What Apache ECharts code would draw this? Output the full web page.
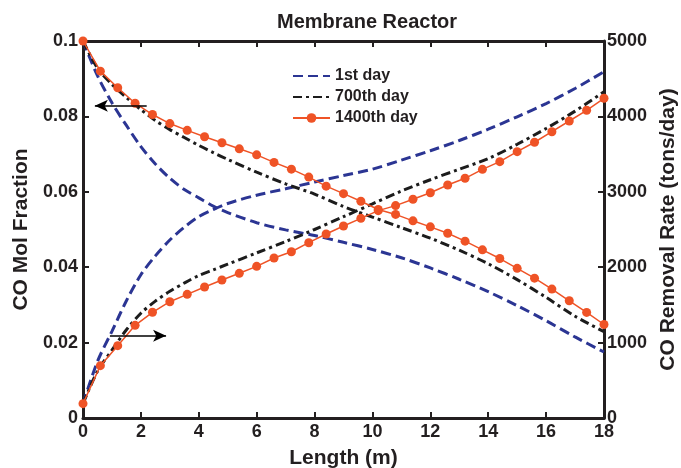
<!DOCTYPE html>
<html>
<head>
<meta charset="utf-8">
<script src="https://cdn.jsdelivr.net/npm/echarts@6/dist/echarts.min.js"></script>
<style>
html, body { margin: 0; padding: 0; background: #fff; }
#chart { width: 681px; height: 468px; }
</style>
</head>
<body>
<div id="chart"></div>
<script>
// lengths (m) for the smooth curves
const lenSmooth = [0, 0.5, 1, 1.5, 2, 2.5, 3, 3.5, 4, 4.5, 5, 6, 7, 8, 9, 10, 11, 12, 13, 14, 15, 16, 17, 18];
// lengths (m) of the marked 1400th day points
const lenMarked = [0, 0.6, 1.2, 1.8, 2.4, 3, 3.6, 4.2, 4.8, 5.4, 6, 6.6, 7.2, 7.8, 8.4, 9, 9.6, 10.2,
  10.8, 11.4, 12, 12.6, 13.2, 13.8, 14.4, 15, 15.6, 16.2, 16.8, 17.4, 18];

// CO mol fraction (left axis)
const molDay1 = [0.1, 0.0908, 0.0836, 0.0776, 0.0720, 0.0674, 0.0636, 0.0606, 0.0584, 0.0562, 0.0545,
  0.0518, 0.0499, 0.0484, 0.0466, 0.0447, 0.0425, 0.0398, 0.0368, 0.0335, 0.0298, 0.0258, 0.0215, 0.0175];
const molDay700 = [0.1, 0.0928, 0.0885, 0.0850, 0.0818, 0.0789, 0.0765, 0.0744, 0.0723, 0.0704, 0.0686,
  0.0652, 0.0621, 0.0594, 0.0561, 0.0533, 0.0505, 0.0477, 0.0445, 0.0409, 0.0367, 0.0320, 0.0270, 0.0229];
const molDay1400 = [0.1, 0.0920, 0.0876, 0.0835, 0.0805, 0.0781, 0.0763, 0.0746, 0.0730, 0.0714, 0.0698,
  0.0678, 0.0660, 0.0639, 0.0615, 0.0595, 0.0575, 0.0553, 0.0540, 0.0523, 0.0507, 0.0490, 0.0469, 0.0446,
  0.0423, 0.0397, 0.0371, 0.0342, 0.0311, 0.0280, 0.0248];

// CO removal rate, tons/day (right axis)
const rateDay1 = [190, 750, 1150, 1555, 1900, 2150, 2360, 2530, 2670, 2765, 2845,
  2955, 3040, 3130, 3215, 3300, 3420, 3545, 3680, 3830, 3995, 4170, 4370, 4593];
const rateDay700 = [190, 620, 900, 1170, 1390, 1550, 1680, 1790, 1890, 1965, 2040,
  2190, 2340, 2500, 2670, 2840, 3010, 3160, 3300, 3440, 3630, 3840, 4070, 4328];
const rateDay1400 = [190, 694, 959, 1229, 1402, 1542, 1640, 1737, 1830, 1919, 2011, 2122, 2205, 2325,
  2440, 2546, 2648, 2750, 2817, 2901, 2988, 3090, 3179, 3298, 3400, 3532, 3657, 3797, 3939, 4081, 4240];

const legendNames = ['1st day', '700th day', '1400th day'];

// arrows showing which axis each family of curves uses
const arrowMol = [[2.2, 0.0828], [0.41, 0.0828]];
const arrowRate = [[0.93, 1092], [2.87, 1092]];

const BLUE = '#2b3593';
const BLACK = '#1c1c1c';
const RED = '#ef5326';
const INK = '#231f20';
const FONT = '"Liberation Sans", Arial, sans-serif';

function pairs(xs, ys) {
  return xs.map((x, i) => [x, ys[i]]);
}

function arrow(pts) {
  return {
    silent: true,
    symbol: ['none', 'arrow'],
    symbolSize: [9, 13],
    label: { show: false },
    lineStyle: { color: '#000', width: 1.5, type: 'solid' },
    emphasis: { disabled: true },
    data: [[{ coord: pts[0] }, { coord: pts[1] }]]
  };
}

const chart = echarts.init(document.getElementById('chart'));

const axisCommon = {
  axisLine: { show: true, onZero: false, lineStyle: { color: INK, width: 3 } },
  axisTick: { show: true, inside: true, length: 6, lineStyle: { color: INK, width: 2 } },
  splitLine: { show: false }
};

const option = {
  animation: false,
  backgroundColor: '#fff',
  title: {
    text: 'Membrane Reactor',
    left: 272,
    top: 7,
    textStyle: { fontFamily: FONT, fontWeight: 'bold', fontSize: 20, color: INK }
  },
  legend: {
    data: [
      // dashed curves have no markers, so hide the legend symbol for them
      { name: legendNames[0], itemStyle: { opacity: 0 } },
      { name: legendNames[1], itemStyle: { opacity: 0 } },
      { name: legendNames[2] }
    ],
    orient: 'vertical',
    left: 287,
    top: 63,
    itemWidth: 37,
    itemHeight: 12,
    itemGap: 5,
    textStyle: { fontFamily: FONT, fontWeight: 'bold', fontSize: 16, color: INK, lineHeight: 16 }
  },
  grid: { left: 83, right: 77, top: 41, bottom: 50, containLabel: false, outerBoundsMode: 'none' },
  xAxis: [
    Object.assign({
      type: 'value', min: 0, max: 18, interval: 2, position: 'bottom',
      name: 'Length (m)', nameLocation: 'middle', nameGap: 30,
      nameTextStyle: { fontFamily: FONT, fontWeight: 'bold', fontSize: 21, color: INK },
      axisLabel: { fontFamily: FONT, fontWeight: 'bold', fontSize: 18, color: INK, margin: 5 }
    }, axisCommon),
    Object.assign({
      type: 'value', min: 0, max: 18, interval: 2, position: 'top',
      axisLabel: { show: false }
    }, axisCommon)
  ],
  yAxis: [
    Object.assign({
      type: 'value', min: 0, max: 0.1, interval: 0.02, position: 'left',
      name: 'CO Mol Fraction', nameLocation: 'middle', nameGap: 50, nameRotate: 90,
      nameTextStyle: { fontFamily: FONT, fontWeight: 'bold', fontSize: 21, color: INK },
      axisLabel: {
        fontFamily: FONT, fontWeight: 'bold', fontSize: 18, color: INK, margin: 5,
        formatter: v => String(+v.toFixed(2))
      }
    }, axisCommon),
    Object.assign({
      type: 'value', min: 0, max: 5000, interval: 1000, position: 'right',
      name: 'CO Removal Rate (tons/day)', nameLocation: 'middle', nameGap: 53, nameRotate: 90,
      nameTextStyle: { fontFamily: FONT, fontWeight: 'bold', fontSize: 21, color: INK },
      axisLabel: {
        fontFamily: FONT, fontWeight: 'bold', fontSize: 18, color: INK, margin: 3,
        formatter: v => String(v)
      }
    }, axisCommon)
  ],
  series: [
    {
      name: '1st day', type: 'line', yAxisIndex: 0, smooth: 0.3, symbol: 'none', clip: false,
      data: pairs(lenSmooth, molDay1),
      itemStyle: { color: BLUE },
      lineStyle: { color: BLUE, width: 3, type: [10, 5] }
    },
    {
      name: '1st day', type: 'line', yAxisIndex: 1, smooth: 0.3, symbol: 'none', clip: false,
      data: pairs(lenSmooth, rateDay1),
      itemStyle: { color: BLUE },
      lineStyle: { color: BLUE, width: 3, type: [10, 5] }
    },
    {
      name: '700th day', type: 'line', yAxisIndex: 0, smooth: 0.3, symbol: 'none', clip: false,
      data: pairs(lenSmooth, molDay700),
      itemStyle: { color: BLACK },
      lineStyle: { color: BLACK, width: 3, type: [9, 4, 3, 4] },
      markLine: arrow(arrowMol)
    },
    {
      name: '700th day', type: 'line', yAxisIndex: 1, smooth: 0.3, symbol: 'none', clip: false,
      data: pairs(lenSmooth, rateDay700),
      itemStyle: { color: BLACK },
      lineStyle: { color: BLACK, width: 3, type: [9, 4, 3, 4] },
      markLine: arrow(arrowRate)
    },
    {
      name: '1400th day', type: 'line', yAxisIndex: 0, symbol: 'circle', symbolSize: 9, clip: false,
      data: pairs(lenMarked, molDay1400),
      itemStyle: { color: RED },
      lineStyle: { color: RED, width: 1.5 }
    },
    {
      name: '1400th day', type: 'line', yAxisIndex: 1, symbol: 'circle', symbolSize: 9, clip: false,
      data: pairs(lenMarked, rateDay1400),
      itemStyle: { color: RED },
      lineStyle: { color: RED, width: 1.5 }
    }
  ]
};

chart.setOption(option);
</script>
</body>
</html>
